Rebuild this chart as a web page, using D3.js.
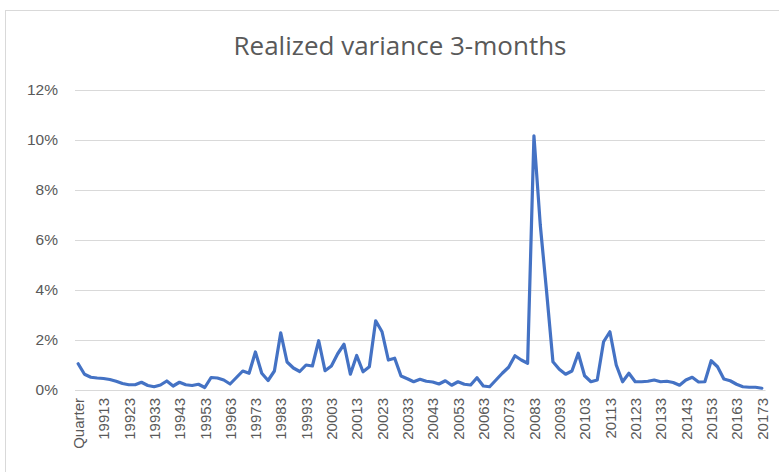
<!DOCTYPE html>
<html>
<head>
<meta charset="utf-8">
<script src="https://cdn.jsdelivr.net/npm/d3@7"></script>
<style>
    body { margin: 0; background: #fff; }
    svg { display: block; }
</style>
</head>
<body>
<div id="chart"></div>
<script>
// quarter codes as they appear in the sheet (first row is the header cell)
var quarters = [
    "Quarter", "19904", "19911", "19912", "19913", "19914", "19921", "19922",
    "19923", "19924", "19931", "19932", "19933", "19934", "19941", "19942",
    "19943", "19944", "19951", "19952", "19953", "19954", "19961", "19962",
    "19963", "19964", "19971", "19972", "19973", "19974", "19981", "19982",
    "19983", "19984", "19991", "19992", "19993", "19994", "20001", "20002",
    "20003", "20004", "20011", "20012", "20013", "20014", "20021", "20022",
    "20023", "20024", "20031", "20032", "20033", "20034", "20041", "20042",
    "20043", "20044", "20051", "20052", "20053", "20054", "20061", "20062",
    "20063", "20064", "20071", "20072", "20073", "20074", "20081", "20082",
    "20083", "20084", "20091", "20092", "20093", "20094", "20101", "20102",
    "20103", "20104", "20111", "20112", "20113", "20114", "20121", "20122",
    "20123", "20124", "20131", "20132", "20133", "20134", "20141", "20142",
    "20143", "20144", "20151", "20152", "20153", "20154", "20161", "20162",
    "20163", "20164", "20171", "20172", "20173"
];

// realized variance, in percent
var variance = [
    1.05, 0.63, 0.51, 0.48, 0.46, 0.42, 0.35, 0.26, 0.21, 0.21,
    0.31, 0.18, 0.13, 0.20, 0.36, 0.16, 0.31, 0.21, 0.18, 0.23,
    0.10, 0.50, 0.48, 0.40, 0.24, 0.50, 0.76, 0.67, 1.52, 0.67,
    0.38, 0.76, 2.29, 1.12, 0.88, 0.74, 1.00, 0.96, 1.97, 0.77,
    0.96, 1.45, 1.83, 0.63, 1.38, 0.73, 0.93, 2.77, 2.33, 1.20,
    1.27, 0.56, 0.45, 0.33, 0.43, 0.35, 0.32, 0.24, 0.37, 0.19,
    0.33, 0.23, 0.20, 0.49, 0.16, 0.13, 0.40, 0.67, 0.91, 1.37,
    1.20, 1.07, 10.17, 6.60, 3.93, 1.13, 0.83, 0.63, 0.76, 1.47,
    0.57, 0.33, 0.40, 1.93, 2.33, 1.00, 0.33, 0.67, 0.33, 0.33,
    0.35, 0.40, 0.33, 0.35, 0.30, 0.19, 0.40, 0.51, 0.32, 0.33,
    1.17, 0.93, 0.44, 0.37, 0.23, 0.13, 0.11, 0.11, 0.07
];

var yTicks = [0, 2, 4, 6, 8, 10, 12];

var data = quarters.map(function (q, i) { return [q, variance[i]]; });

var W = 779, H = 472;
var margin = { top: 90, right: 14, bottom: 82, left: 75 };
var plot = { width: W - margin.left - margin.right, height: H - margin.top - margin.bottom };

var root = d3.select("#chart")
    .append("svg")
    .attr("width", W)
    .attr("height", H)
    .style("font-family", "'Open Sans', sans-serif");

// chart area border
root.append("rect")
    .attr("x", 5.5)
    .attr("y", 10.5)
    .attr("width", 800)
    .attr("height", 470)
    .attr("fill", "#fff")
    .attr("stroke", "#d9d9d9");

root.append("text")
    .attr("x", 400)
    .attr("y", 55)
    .attr("text-anchor", "middle")
    .attr("fill", "#595959")
    .style("font-size", "26px")
    .text("Realized variance 3-months");

var svg = root.append("g")
    .attr("transform", "translate(" + margin.left + "," + margin.top + ")");

var x = d3.scalePoint()
    .domain(quarters)
    .range([0, plot.width])
    .padding(0.5);

var y = d3.scaleLinear()
    .domain([0, 12])
    .range([plot.height, 0]);

// gridlines + y labels
var yAxis = svg.append("g")
    .call(d3.axisLeft(y)
        .tickValues(yTicks)
        .tickSize(-plot.width)
        .tickPadding(17)
        .tickFormat(function (d) { return d + "%"; }));

yAxis.select(".domain").remove();
yAxis.selectAll(".tick line")
    .attr("stroke", "#d9d9d9");
yAxis.selectAll(".tick text")
    .attr("fill", "#595959")
    .style("font-size", "15.5px");

// category axis
var xAxis = svg.append("g")
    .attr("transform", "translate(0," + plot.height + ")")
    .call(d3.axisBottom(x)
        .tickValues(quarters.filter(function (q, i) { return i % 4 === 0; }))
        .tickSize(0));

xAxis.select(".domain")
    .attr("stroke", "#d9d9d9");

xAxis.selectAll(".tick text")
    .attr("fill", "#595959")
    .style("font-size", "15px")
    .attr("text-anchor", "end")
    .attr("transform", "rotate(-90)")
    .attr("x", -8)
    .attr("y", 0)
    .attr("dy", "0.35em");

svg.append("path")
    .datum(data)
    .attr("fill", "none")
    .attr("stroke", "#4472c4")
    .attr("stroke-width", 3.2)
    .attr("stroke-linejoin", "round")
    .attr("stroke-linecap", "round")
    .attr("d", d3.line()
        .x(function (d) { return x(d[0]); })
        .y(function (d) { return y(d[1]); })
    );
</script>
</body>
</html>
